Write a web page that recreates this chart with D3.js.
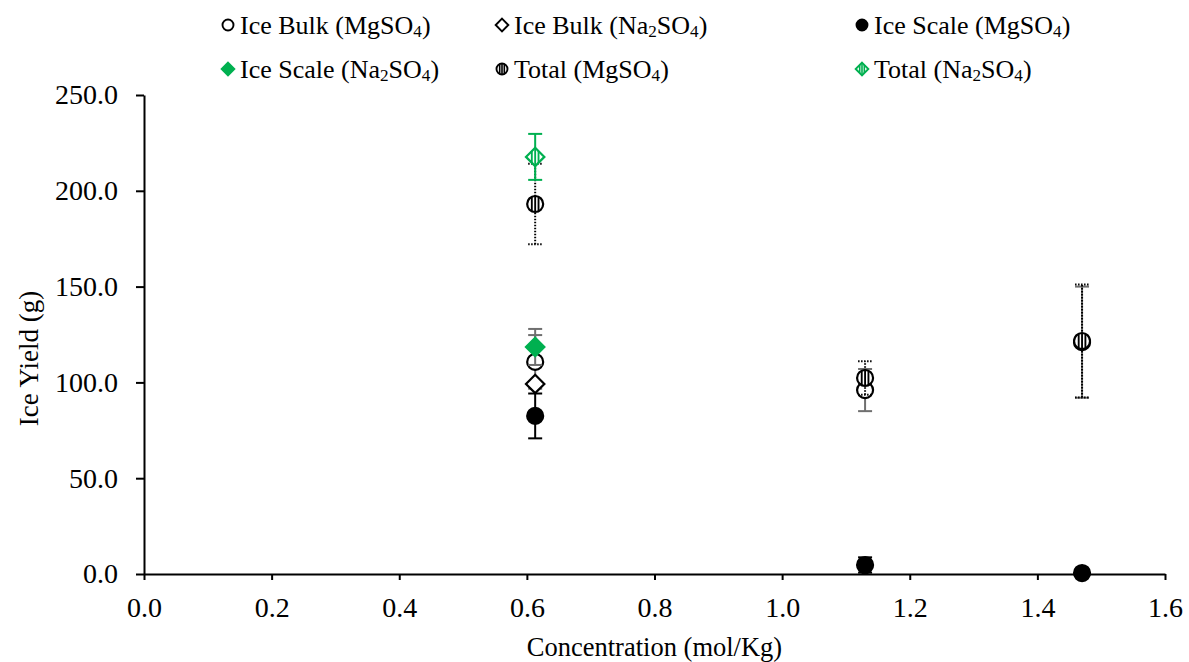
<!DOCTYPE html>
<html>
<head>
<meta charset="utf-8">
<script src="https://cdn.jsdelivr.net/npm/d3@7"></script>
<style>
  body { margin: 0; background: #fff; }
  svg { display: block; font-family: "Liberation Serif", "Times New Roman", serif; }
</style>
</head>
<body>
<svg id="chart" width="1189" height="662"></svg>
<script>
// concentrations (mol/Kg)
const concMg = [0.613, 1.13, 1.47];
const concNa = [0.613];

// ice yield (g) and error bars
const bulkMg = [110.7, 96.0, 121.0];
const bulkMgErr = [14.0, 11.0, 29.0];
const bulkNa = [99.2];
const bulkNaErr = [0];
const scaleMg = [82.5, 4.7, 0.5];
const scaleMgErr = [11.7, 4.0, 0];
const scaleNa = [118.5];
const scaleNaErr = [9.4];
const totalMg = [193.1, 102.3, 121.6];
const totalMgErr = [21.0, 8.8, 29.5];
const totalNa = [217.7];
const totalNaErr = [12.0];

const xTicks = [0, 0.2, 0.4, 0.6, 0.8, 1.0, 1.2, 1.4, 1.6];
const yTicks = [0, 50, 100, 150, 200, 250];

const green = '#00b050';
const grey = '#6f6f6f';

const series = [
    {name: 'Ice Bulk (MgSO4)', x: concMg, y: bulkMg, err: bulkMgErr, shape: 'circle', fill: '#fff', stroke: '#000', errColor: grey, dash: null},
    {name: 'Ice Bulk (Na2SO4)', x: concNa, y: bulkNa, err: bulkNaErr, shape: 'diamond', fill: '#fff', stroke: '#000', errColor: '#000', dash: null},
    {name: 'Ice Scale (MgSO4)', x: concMg, y: scaleMg, err: scaleMgErr, shape: 'circle', fill: '#000', stroke: '#000', errColor: '#000', dash: null},
    {name: 'Ice Scale (Na2SO4)', x: concNa, y: scaleNa, err: scaleNaErr, shape: 'diamond', fill: green, stroke: green, errColor: grey, dash: null},
    {name: 'Total (MgSO4)', x: concMg, y: totalMg, err: totalMgErr, shape: 'circle', fill: '#fff', stroke: '#000', striped: true, errColor: '#000', dash: '1.5,1.5'},
    {name: 'Total (Na2SO4)', x: concNa, y: totalNa, err: totalNaErr, shape: 'diamond', fill: '#fff', stroke: green, striped: true, errColor: green, dash: null}
];

const svg = d3.select('#chart');
const margin = {left: 144, right: 1165, top: 95, bottom: 574};

const x = d3.scaleLinear().domain([0, 1.6]).range([margin.left, margin.right]);
const y = d3.scaleLinear().domain([0, 250]).range([margin.bottom, margin.top]);

// text with subscript digits in the chemical formulas
function richText(sel, str, size) {
    const parts = str.split(/(\d)/);
    let sub = false;
    parts.forEach(part => {
        if (!part) return;
        if (/\d/.test(part)) {
            sel.append('tspan').attr('font-size', size * 0.66).attr('dy', 3).text(part);
            sub = true;
        } else {
            const t = sel.append('tspan').text(part);
            if (sub) { t.attr('dy', -3); sub = false; }
        }
    });
}

// axes
const xAxis = svg.append('g')
    .attr('transform', `translate(0,${margin.bottom})`)
    .call(d3.axisBottom(x).tickValues(xTicks).tickFormat(d3.format('.1f')).tickSize(6).tickSizeOuter(0));
const yAxis = svg.append('g')
    .attr('transform', `translate(${margin.left},0)`)
    .call(d3.axisLeft(y).tickValues(yTicks).tickFormat(d3.format('.1f')).tickSize(8).tickSizeOuter(0));

[xAxis, yAxis].forEach(a => {
    a.select('.domain').attr('stroke', '#000').attr('stroke-width', 2);
    a.selectAll('.tick line').attr('stroke', '#000').attr('stroke-width', 2);
    a.selectAll('.tick text').attr('fill', '#000').attr('font-size', 28)
        .attr('font-family', '"Liberation Serif", "Times New Roman", serif');
});
xAxis.selectAll('.tick text').attr('dy', '0.71em').attr('y', 23);
yAxis.selectAll('.tick text').attr('x', -26);

svg.append('text')
    .attr('x', (margin.left + margin.right) / 2)
    .attr('y', 656)
    .attr('text-anchor', 'middle')
    .attr('font-size', 26.5)
    .text('Concentration (mol/Kg)');

svg.append('text')
    .attr('transform', `translate(38,${(margin.top + margin.bottom) / 2 + 24}) rotate(-90)`)
    .attr('text-anchor', 'middle')
    .attr('font-size', 27)
    .text('Ice Yield (g)');

// markers
function drawMarker(g, s, r, sw) {
    const d = r * 1.15;
    const shape = s.shape === 'circle'
        ? g.append('circle').attr('r', r)
        : g.append('path').attr('d', `M0,${-d}L${d},0L0,${d}L${-d},0Z`);
    shape.attr('fill', s.fill).attr('stroke', s.stroke).attr('stroke-width', sw);
    if (s.striped) {
        [-0.42, 0, 0.42].forEach(f => {
            const dx = f * r;
            const h = s.shape === 'circle' ? Math.sqrt(r * r - dx * dx) : d - Math.abs(dx);
            g.append('line')
                .attr('x1', dx).attr('x2', dx)
                .attr('y1', -h).attr('y2', h)
                .attr('stroke', s.stroke)
                .attr('stroke-width', sw * 0.85);
        });
    }
}

const plot = svg.append('g');
series.forEach(s => {
    const g = plot.append('g');
    const pts = s.x.map((xv, i) => ({x: xv, y: s.y[i], e: s.err[i]}));
    pts.forEach(p => {
        if (!p.e) return;
        const px = x(p.x);
        const eb = g.append('g')
            .attr('stroke', s.errColor)
            .attr('stroke-width', 2)
            .attr('stroke-dasharray', s.dash);
        eb.append('line').attr('x1', px).attr('x2', px).attr('y1', y(p.y - p.e)).attr('y2', y(p.y + p.e));
        [p.y - p.e, p.y + p.e].forEach(v => {
            eb.append('line').attr('x1', px - 7).attr('x2', px + 7).attr('y1', y(v)).attr('y2', y(v));
        });
    });
    pts.forEach(p => {
        const mg = g.append('g').attr('transform', `translate(${x(p.x)},${y(p.y)})`);
        drawMarker(mg, s, 8, 2.2);
    });
});

// legend
const legendCols = [228, 502, 862];
const legendRows = [25, 69];
series.forEach((s, i) => {
    const lx = legendCols[i % 3];
    const ly = legendRows[Math.floor(i / 3)];
    const g = svg.append('g').attr('transform', `translate(${lx},${ly})`);
    drawMarker(g, s, 5.5, 1.9);
    const t = g.append('text')
        .attr('x', 12)
        .attr('y', 9)
        .attr('font-size', 26);
    richText(t, s.name, 26);
});
</script>
</body>
</html>
